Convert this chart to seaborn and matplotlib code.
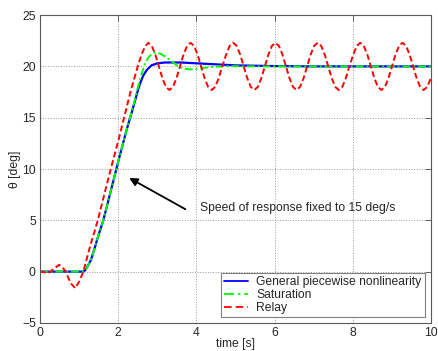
import matplotlib
matplotlib.use("Agg")
import matplotlib.pyplot as plt
import seaborn as sns
import numpy as np

# values
t_gen = [0.0, 1.1, 1.15, 1.2, 1.3, 1.4, 1.5, 1.62, 1.8, 2.0, 2.2, 2.39, 2.5, 2.56,
         2.64, 2.73, 2.85, 3.0, 3.2, 3.6, 4.0, 4.5, 5.0, 6.0, 7.0, 10.0]
y_gen = [0.0, 0.0, 0.1, 0.4, 1.1, 2.3, 3.6, 5.0, 7.7, 10.7, 13.6, 16.1, 17.6, 18.35,
         19.1, 19.65, 20.1, 20.3, 20.38, 20.38, 20.3, 20.2, 20.1, 20.03, 20.0, 20.0]

t_sat = [0.0, 1.1, 1.15, 1.2, 1.3, 1.4, 1.5, 1.62, 1.8, 2.0, 2.2, 2.39, 2.5, 2.6,
         2.7, 2.8, 2.9, 2.98, 3.1, 3.3, 3.5, 3.65, 3.84, 4.1, 4.4, 4.8, 5.5, 10.0]
y_sat = [0.0, 0.0, 0.1, 0.4, 1.1, 2.3, 3.6, 5.0, 7.7, 10.7, 13.6, 16.2, 17.9, 19.3,
         20.4, 21.0, 21.3, 21.35, 21.2, 20.7, 20.1, 19.8, 19.7, 19.8, 19.95, 20.02, 20.0, 20.0]

t_relay = [0.0, 0.1, 0.21, 0.35, 0.49, 0.58, 0.66, 0.78, 0.9, 1.0, 1.11, 1.2, 1.3,
           1.48, 1.65, 1.81, 2.0, 2.15, 2.32, 2.5, 2.6, 2.69, 2.77,
           2.86, 2.95, 3.04, 3.13, 3.22, 3.31,
           3.40, 3.49, 3.58, 3.67, 3.76, 3.85,
           3.94, 4.03, 4.12, 4.21, 4.30, 4.39,
           4.48, 4.57, 4.66, 4.76, 4.85, 4.94,
           5.03, 5.12, 5.21, 5.30, 5.39, 5.48,
           5.57, 5.66, 5.75, 5.84, 5.93, 6.02,
           6.11, 6.20, 6.29, 6.38, 6.47, 6.56,
           6.65, 6.74, 6.83, 6.92, 7.01, 7.10,
           7.19, 7.28, 7.37, 7.46, 7.55, 7.64,
           7.73, 7.82, 7.91, 8.01, 8.10, 8.19,
           8.28, 8.37, 8.46, 8.55, 8.64, 8.73,
           8.82, 8.91, 9.00, 9.09, 9.18, 9.27,
           9.36, 9.45, 9.54, 9.63, 9.72, 9.81,
           9.90, 10.0]
down = [22.0, 21.15, 20.0, 18.85, 18.0, 17.7]
up = [18.0, 18.85, 20.0, 21.15, 22.0, 22.3]
y_relay = ([0.0, -0.05, -0.15, 0.25, 0.66, 0.4, 0.0, -1.1, -1.61, -1.0, 0.0, 1.3, 2.7,
            5.0, 7.6, 10.0, 12.7, 15.0, 17.6, 20.0, 21.2, 21.95, 22.3]
           + down + up + down + up + down + up + down + up + down + up + down + up + down
           + [18.0, 18.9])

sns.set_style("white")
plt.rcParams['font.family'] = ['Liberation Sans', 'DejaVu Sans']
fs = 8.7
plt.rcParams['font.size'] = fs

fig = plt.figure(figsize=(4.39, 3.51), dpi=100)
ax = fig.add_axes([0.091, 0.080, 0.891, 0.877])

sns.lineplot(x=t_gen, y=y_gen, color='#0000ff', lw=1.6, label='General piecewise nonlinearity', ax=ax)
sns.lineplot(x=t_sat, y=y_sat, color='#00ff00', lw=1.4, dashes=False, label='Saturation', ax=ax)
sns.lineplot(x=t_relay, y=y_relay, color='#ff0000', lw=1.4, label='Relay', ax=ax)
ax.lines[1].set_dashes([4, 1.5, 1, 1.5])
ax.lines[2].set_dashes([3, 1.6])

ax.set_xlim(0, 10)
ax.set_ylim(-5, 25)
ax.set_xticks(np.arange(0, 11, 2))
ax.set_yticks(np.arange(-5, 26, 5))
ax.grid(True, linestyle=':', color='0.6', lw=0.7)
ax.tick_params(direction='in', top=True, right=True, length=4, width=0.6,
               color='0.3', labelsize=fs, pad=3)
for s in ax.spines.values():
    s.set_color('0.35')
    s.set_linewidth(0.8)

ax.set_xlabel('time [s]', fontsize=fs, labelpad=-1)
ax.set_ylabel('θ [deg]', fontsize=fs, labelpad=1)

ax.annotate('', xy=(2.22, 9.26), xytext=(3.78, 5.95),
            arrowprops=dict(arrowstyle='-|>', color='k', lw=1.3, mutation_scale=12))
ax.text(4.09, 6.24, 'Speed of response fixed to 15 deg/s', va='center', ha='left', fontsize=fs)

leg = ax.legend(loc='lower right', bbox_to_anchor=(0.99, 0.01), fancybox=False,
                edgecolor='0.5', framealpha=1, fontsize=fs, borderpad=0.25,
                labelspacing=0.1, handlelength=2.0, handletextpad=0.7, borderaxespad=0.2)
leg.get_frame().set_linewidth(0.8)
# legend handles follow the line dash patterns
for h, l in zip(leg.get_lines(), ax.lines):
    h.set_dashes(l._dash_pattern[1] if l._dash_pattern[1] else [])
    h.set_linewidth(1.3)

fig.savefig('out.png', dpi=100)
